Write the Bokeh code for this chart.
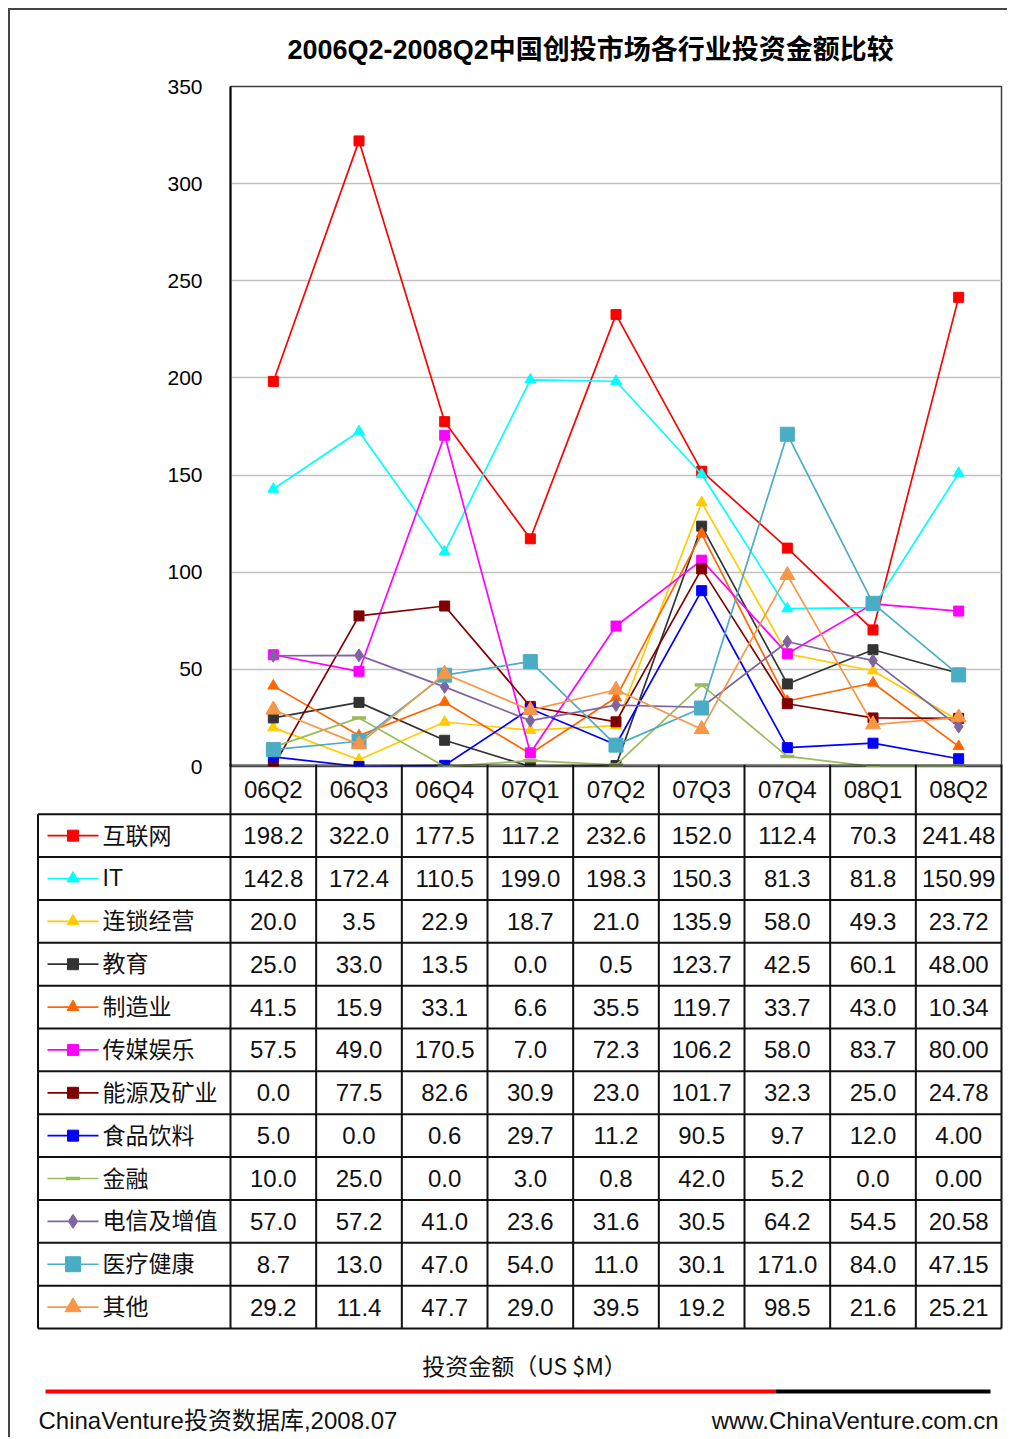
from bokeh.plotting import figure
from bokeh.models import Range1d, FixedTicker
from bokeh.embed import file_html
from bokeh.resources import INLINE
from bokeh.core.properties import value

# ---------------- data ----------------
quarters = ["06Q2", "06Q3", "06Q4", "07Q1", "07Q2", "07Q3", "07Q4", "08Q1", "08Q2"]
series_names = ["互联网", "IT", "连锁经营", "教育", "制造业", "传媒娱乐",
                "能源及矿业", "食品饮料", "金融", "电信及增值", "医疗健康", "其他"]
internet = [198.2, 322.0, 177.5, 117.2, 232.6, 152.0, 112.4, 70.3, 241.48]
it = [142.8, 172.4, 110.5, 199.0, 198.3, 150.3, 81.3, 81.8, 150.99]
chain = [20.0, 3.5, 22.9, 18.7, 21.0, 135.9, 58.0, 49.3, 23.72]
education = [25.0, 33.0, 13.5, 0.0, 0.5, 123.7, 42.5, 60.1, 48.00]
manufacturing = [41.5, 15.9, 33.1, 6.6, 35.5, 119.7, 33.7, 43.0, 10.34]
media = [57.5, 49.0, 170.5, 7.0, 72.3, 106.2, 58.0, 83.7, 80.00]
energy = [0.0, 77.5, 82.6, 30.9, 23.0, 101.7, 32.3, 25.0, 24.78]
food = [5.0, 0.0, 0.6, 29.7, 11.2, 90.5, 9.7, 12.0, 4.00]
finance = [10.0, 25.0, 0.0, 3.0, 0.8, 42.0, 5.2, 0.0, 0.00]
telecom = [57.0, 57.2, 41.0, 23.6, 31.6, 30.5, 64.2, 54.5, 20.58]
health = [8.7, 13.0, 47.0, 54.0, 11.0, 30.1, 171.0, 84.0, 47.15]
other = [29.2, 11.4, 47.7, 29.0, 39.5, 19.2, 98.5, 21.6, 25.21]
y_ticks = [0, 50, 100, 150, 200, 250, 300, 350]

title_text = "2006Q2-2008Q2中国创投市场各行业投资金额比较"
unit_text = "投资金额（US $M）"
source_left = "ChinaVenture投资数据库,2008.07"
source_right = "www.ChinaVenture.com.cn"

series_values = [internet, it, chain, education, manufacturing, media,
                 energy, food, finance, telecom, health, other]

# ---------------- styles ----------------
colors = ["#FF0000", "#00FFFF", "#FFCC00", "#333333", "#FF6600", "#FF00FF",
          "#800000", "#0000FF", "#9BBB59", "#8064A2", "#4BACC6", "#F79646"]
markers = ["square", "triangle", "triangle", "square", "triangle", "square",
           "square", "square", "dash", "diamond", "square", "triangle"]
msizes = [10, 11, 11, 10, 11, 10, 10, 10, 14, 13, 14, 15]

FONT = "'Liberation Sans', 'Noto Sans CJK SC', sans-serif"
CJK = "'Noto Sans CJK SC', sans-serif"
BORDER = "2px solid #444444"

W = 999
OVERLAP = 16
TOP_H = 756 + OVERLAP
BOT_H = 673
FRAME_L = 220      # frame left offset inside figure
FRAME_R = 8
NCOL = len(quarters)
frame_w = 771
unit = frame_w / NCOL

xs = [i + 0.5 for i in range(NCOL)]

# ---------------- chart ----------------
p = figure(width=W, height=TOP_H, x_range=Range1d(0, NCOL), y_range=Range1d(0, 350),
           output_backend="svg", toolbar_location=None, x_axis_location=None,
           min_border_left=FRAME_L, min_border_right=FRAME_R, min_border_top=76,
           min_border_bottom=OVERLAP, background_fill_color="white",
           styles={"margin-left": "8px", "margin-top": "8px",
                   "border-left": BORDER, "border-top": BORDER})
p.title.text = title_text
p.title.text_font = FONT
p.title.text_font_size = "27px"
p.title.text_font_style = "bold"
p.title.text_color = "black"
p.title.align = "left"
p.title.offset = 57
p.title.standoff = 44

p.yaxis.ticker = FixedTicker(ticks=y_ticks)
p.yaxis.major_label_text_font = FONT
p.yaxis.major_label_text_font_size = "21px"
p.yaxis.major_label_text_color = "black"
p.yaxis.major_tick_line_color = None
p.yaxis.minor_tick_line_color = None
p.yaxis.axis_line_color = "black"
p.yaxis.axis_line_width = 2
p.yaxis.major_label_standoff = 22
p.xgrid.visible = False
p.ygrid.ticker = FixedTicker(ticks=y_ticks)
p.ygrid.grid_line_color = "#c0c0c0"
p.ygrid.grid_line_width = 1.5
p.outline_line_color = "#404040"
p.outline_line_width = 1.5

for vals, c, m, s in zip(series_values, colors, markers, msizes):
    p.line(xs, vals, line_color=c, line_width=1.7)
    if m == "dash":
        p.scatter(xs, vals, marker=m, size=s, line_color=c, line_width=3.5)
    else:
        p.scatter(xs, vals, marker=m, size=s, fill_color=c, line_color=c)

# ---------------- table ----------------
x0 = -FRAME_L / unit
x1 = NCOL + FRAME_R / unit
t = figure(width=W, height=BOT_H, x_range=Range1d(x0, x1), y_range=Range1d(BOT_H, 0),
           output_backend="svg", toolbar_location=None, x_axis_location=None,
           y_axis_location=None, min_border=0, outline_line_color=None,
           background_fill_color=None, border_fill_color=None,
           styles={"margin-left": "8px", "margin-top": f"-{OVERLAP}px",
                   "border-left": BORDER})
t.grid.visible = False

def px(xpix):
    # page-x to data-x in the table figure
    return (xpix - 230) / unit

hdr_h = 49.7
row_h = 42.86
nrow = len(series_names)
bottom = hdr_h + nrow * row_h
leg_left = px(37.5)
LC = "#111111"

# horizontal lines
hx0 = [0] + [leg_left] * (nrow + 1)
hx1 = [NCOL] * (nrow + 2)
hy = [0] + [hdr_h + k * row_h for k in range(nrow + 1)]
t.segment(x0=hx0, y0=hy, x1=hx1, y1=hy, line_color=LC, line_width=2)
# vertical lines
vx = [leg_left] + list(range(NCOL + 1))
vy0 = [hdr_h] + [0] * (NCOL + 1)
vy1 = [bottom] * (NCOL + 2)
t.segment(x0=vx, y0=vy0, x1=vx, y1=vy1, line_color=LC, line_width=2)

# header
t.text(x=xs, y=[hdr_h / 2] * NCOL, text=quarters, text_align="center",
       text_baseline="middle", text_font=value(FONT), text_font_size="24px",
       text_color="#111111")

# cells
for i, vals in enumerate(series_values):
    yc = hdr_h + (i + 0.5) * row_h
    labels = [f"{v:.1f}" for v in vals[:-1]] + [f"{vals[-1]:.2f}"]
    t.text(x=xs, y=[yc] * NCOL, text=labels, text_align="center",
           text_baseline="middle", text_font=value(FONT), text_font_size="24px",
           text_color="#111111")
    c = colors[i]
    t.line([px(47), px(98)], [yc, yc], line_color=c, line_width=1.7)
    m = markers[i]
    if m == "dash":
        t.scatter([px(72.5)], [yc], marker=m, size=msizes[i], line_color=c, line_width=3.5)
    else:
        t.scatter([px(72.5)], [yc], marker=m, size=msizes[i] + 1, fill_color=c, line_color=c)
    t.text(x=[px(102)], y=[yc], text=[series_names[i]], text_align="left",
           text_baseline="middle", text_font=value(FONT), text_font_size="23px",
           text_color="#111111")

# footer
t.text(x=[px(524)], y=[600], text=[unit_text], text_align="center",
       text_baseline="middle", text_font=value(CJK), text_font_size="23px",
       text_color="#111111")
t.line([px(45), px(775)], [627, 627], line_color="#FF0000", line_width=4)
t.line([px(775), px(990)], [627, 627], line_color="#000000", line_width=4)
t.text(x=[px(38)], y=[656], text=[source_left], text_align="left",
       text_baseline="middle", text_font=value(FONT), text_font_size="24px",
       text_color="#111111")
t.text(x=[px(998)], y=[656], text=[source_right], text_align="right",
       text_baseline="middle", text_font=value(FONT), text_font_size="24px",
       text_color="#111111")

open("out.html", "w").write(file_html([p, t], INLINE))
